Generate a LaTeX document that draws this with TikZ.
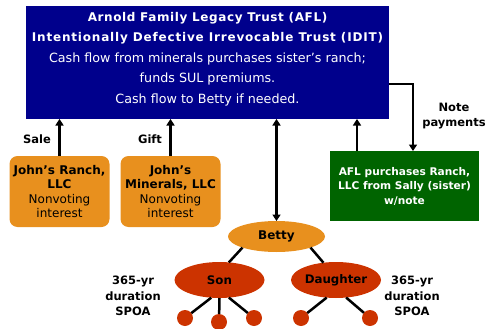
\documentclass[tikz,border=0pt]{standalone}
\usepackage{fontspec}
\setmainfont{DejaVu Sans}
\usetikzlibrary{arrows.meta,shapes.geometric}
\definecolor{trustblue}{RGB}{0,0,140}
\definecolor{llcorange}{RGB}{232,144,30}
\definecolor{salegreen}{RGB}{0,100,0}
\definecolor{kidred}{RGB}{204,51,0}
\begin{document}
\begin{tikzpicture}[x=1pt,y=-1pt,
  every node/.style={inner sep=0pt, outer sep=0pt},
  arr/.style={line width=2.5pt, -{Triangle[length=6.5pt,width=8pt]}},
  dblarr/.style={line width=2.5pt, {Triangle[length=6.5pt,width=8pt]}-{Triangle[length=6.5pt,width=8pt]}},
  link/.style={line width=2.5pt},
  llcbox/.style={fill=llcorange, rounded corners=8pt, minimum width=100pt, minimum height=71pt,
    align=center, font=\fontsize{12}{14.3}\selectfont},
  lbl/.style={font=\fontsize{11.5}{15.8}\selectfont\bfseries, align=center},
  kid/.style={ellipse, fill=kidred, minimum width=90pt, minimum height=36pt, font=\fontsize{11.8}{13}\selectfont\bfseries},
  grand/.style={circle, fill=kidred, minimum size=16pt}]
\useasboundingbox (0,0) rectangle (487,329);

% trust box
\node[fill=trustblue, minimum width=363pt, minimum height=113pt] (trust) at (207.5,62.5) {};
\node[text=white, align=center, font=\fontsize{12.7}{20.5}\selectfont] (trusttxt) at (207.5,59)
  {{\fontsize{12}{20.5}\selectfont\bfseries\addfontfeature{LetterSpace=5}Arnold Family Legacy Trust (AFL)}\\
   {\fontsize{12}{20.5}\selectfont\bfseries\addfontfeature{LetterSpace=6.8}Intentionally Defective Irrevocable Trust (IDIT)}\\
   Cash flow from minerals purchases sister’s ranch;\\
   funds SUL premiums.\\
   Cash flow to Betty if needed.};

% LLC interests
\node[llcbox] (ranch) at (59.5,191.5)
  {\textbf{John’s Ranch,}\\\textbf{LLC}\\Nonvoting\\interest};
\node[llcbox] (minerals) at (170.5,191.5)
  {\textbf{John’s}\\\textbf{Minerals, LLC}\\Nonvoting\\interest};

% sale to the trust
\node[fill=salegreen, minimum width=149pt, minimum height=70pt, text=white, align=center,
  font=\fontsize{10.6}{14.5}\selectfont\bfseries] (sally) at (404.5,186)
  {AFL purchases Ranch,\\LLC from Sally (sister)\\w/note};

% family
\node[ellipse, fill=llcorange, minimum width=97pt, minimum height=31pt,
  font=\fontsize{12}{13}\selectfont\bfseries] (betty) at (276.5,236.5) {Betty};
\node[kid] (son) at (219.5,280) {Son};
\node[kid] (daughter) at (336,280) {Daughter};
\node[grand] (g1) at (185,318) {};
\node[grand] (g2) at (219,322) {};
\node[grand] (g3) at (254,318) {};
\node[grand] (g4) at (301,318) {};
\node[grand] (g5) at (370,318) {};

% labels
\node[lbl] (sale) at (37,139) {Sale};
\node[lbl] (gift) at (150,139) {Gift};
\node[lbl] (note) at (454,116) {Note\\payments};
\node[lbl] (spoaL) at (133,296) {365-yr\\duration\\SPOA};
\node[lbl] (spoaR) at (412,296) {365-yr\\duration\\SPOA};

% connectors
\coordinate (noteout) at (389,84);
\draw[arr] (ranch.north) -- (ranch.north |- trust.south);
\draw[arr] (minerals.north) -- (minerals.north |- trust.south);
\draw[arr] ([xshift=-47.5pt]sally.north) -- ([xshift=-47.5pt]sally.north |- trust.south);
\draw[arr] (noteout) -| ([xshift=8.5pt]sally.north);
\draw[dblarr] (betty.north |- trust.south) -- (betty.north);
\draw[link] (betty.198) -- (son.62);
\draw[link] (betty.342) -- (daughter.126);
\draw[link] (son.-115) -- (g1);
\draw[link] (son.south) -- (g2);
\draw[link] (son.-62) -- (g3);
\draw[link] (daughter.-118) -- (g4);
\draw[link] (daughter.-60) -- (g5);
\end{tikzpicture}
\end{document}
